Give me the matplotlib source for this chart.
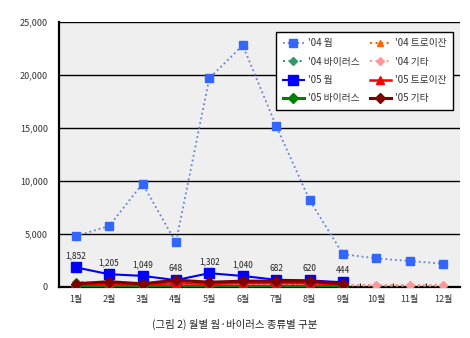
import matplotlib
matplotlib.use("Agg")
import matplotlib.pyplot as plt
from matplotlib.ticker import FuncFormatter, MultipleLocator

plt.rcParams['font.family'] = ['Noto Sans CJK KR', 'DejaVu Sans']

months = ['1월', '2월', '3월', '4월', '5월', '6월', '7월', '8월', '9월', '10월', '11월', '12월']

worm_04 = [4800, 5750, 9750, 4200, 19700, 22800, 15200, 8200, 3100, 2700, 2450, 2200]
virus_04 = [500, 300, 250, 300, 300, 300, 300, 300, 200, 100, 100, 100]
trojan_04 = [200, 200, 200, 200, 200, 200, 200, 200, 150, 150, 150, 150]
etc_04 = [150, 150, 150, 150, 150, 150, 150, 150, 150, 150, 150, 150]

worm_05 = [1852, 1205, 1049, 648, 1302, 1040, 682, 620, 444]
virus_05 = [80, 80, 80, 80, 80, 80, 80, 80, 80]
trojan_05 = [250, 300, 250, 350, 300, 350, 350, 350, 250]
etc_05 = [300, 500, 300, 650, 450, 550, 550, 550, 300]

fig = plt.figure(figsize=(4.7, 3.38), dpi=100)
ax = fig.add_axes([0.1255, 0.1509, 0.853, 0.784])
ax.set_facecolor('#efefef')

x04 = list(range(len(months)))
x05 = list(range(len(worm_05)))

ax.plot(x04, worm_04, ls=':', lw=1.3, color='#6680d8', marker='s', ms=5.5,
        mfc='#3366ff', mec='#3366ff', label="'04 웜", zorder=3)
ax.plot(x04, virus_04, ls=':', lw=1.5, color='#339966', marker='D', ms=4.5,
        mfc='#339966', mec='#339966', label="'04 바이러스", zorder=3)
ax.plot(x05, worm_05, ls='-', lw=1.5, color='#0000ff', marker='s', ms=7,
        mfc='#0000ff', mec='#0000ff', label="'05 웜", zorder=4)
ax.plot(x05, virus_05, ls='-', lw=2.2, color='#008000', marker='D', ms=5.5,
        mfc='#008000', mec='#008000', label="'05 바이러스", zorder=4)
ax.plot(x04, trojan_04, ls=':', lw=1.5, color='#ff6600', marker='^', ms=5,
        mfc='#ff6600', mec='#ff6600', label="'04 트로이잔", zorder=3)
ax.plot(x04, etc_04, ls=':', lw=1.5, color='#ff9999', marker='D', ms=4.5,
        mfc='#ff9999', mec='#ff9999', label="'04 기타", zorder=3)
ax.plot(x05, trojan_05, ls='-', lw=1.8, color='#ff0000', marker='^', ms=5.5,
        mfc='#ff0000', mec='#ff0000', label="'05 트로이잔", zorder=4)
ax.plot(x05, etc_05, ls='-', lw=2.2, color='#800000', marker='D', ms=5.5,
        mfc='#800000', mec='#800000', label="'05 기타", zorder=5)

for xi, v in zip(x05, worm_05):
    ax.annotate(f'{v:,}', (xi, v), xytext=(0, 5), textcoords='offset points',
                ha='center', va='bottom', fontsize=6, color='#222222', zorder=6)

ax.set_xlim(-0.5, len(months) - 0.5)
ax.set_ylim(0, 25000)
ax.yaxis.set_major_locator(MultipleLocator(5000))
ax.yaxis.set_major_formatter(FuncFormatter(lambda v, p: f'{int(v):,}'))
ax.set_xticks(x04)
ax.set_xticklabels(months)
ax.grid(axis='y', color='black', lw=1.0, zorder=1)
ax.set_axisbelow(True)

ax.tick_params(axis='y', length=0, labelsize=6.5, labelcolor='#333333', pad=8)
ax.tick_params(axis='x', length=0, labelsize=6.5, labelcolor='#333333', pad=6)
ax.set_xticks([i + 0.5 for i in range(len(months) - 1)], minor=True)
ax.tick_params(axis='x', which='minor', length=3, direction='in', color='black')

for side in ['top', 'right']:
    ax.spines[side].set_visible(False)
ax.spines['left'].set_linewidth(1.6)
ax.spines['bottom'].set_linewidth(1.6)

leg = ax.legend(ncol=2, loc='upper right', bbox_to_anchor=(0.9825, 0.962),
                borderaxespad=0, fontsize=7, frameon=True, fancybox=False,
                edgecolor='black', framealpha=1.0, handlelength=2.2,
                columnspacing=1.0, labelspacing=0.85, borderpad=0.65,
                handletextpad=0.4)
leg.get_frame().set_linewidth(1.0)
for t in leg.get_texts():
    t.set_color('#333333')

fig.text(0.5, 0.04, '(그림 2) 월별 웜·바이러스 종류별 구분', ha='center', va='center',
         fontsize=7.5, color='#222222')

fig.savefig('out.png', dpi=100)
